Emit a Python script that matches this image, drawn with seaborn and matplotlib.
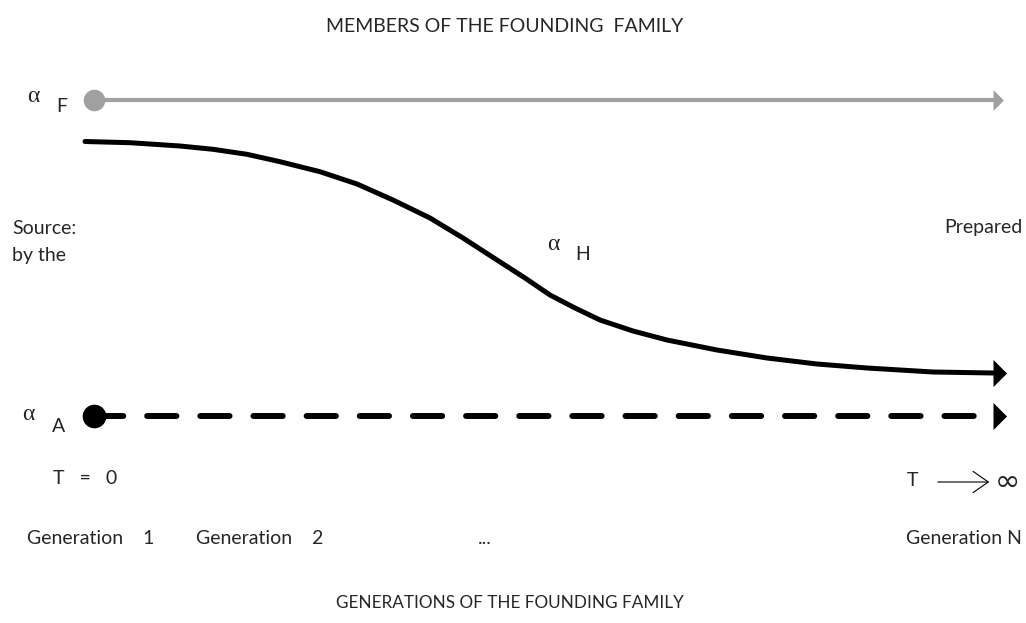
"""
Diagram: alpha of founding family members over generations.
Coordinates are read off the reference picture (pixel space, y down).
"""
import numpy as np
import pandas as pd
import seaborn as sns
from matplotlib import pyplot as plt

# lines across the generations (x = time, y = position on the chart)
founder_x = [94, 993]
founder_y = [100, 100]

heir_x = [85, 130, 180, 213, 247, 280, 320, 357, 393, 430, 463, 497, 525,
          550, 575, 600, 633, 667, 717, 767, 817, 867, 933, 993]
heir_y = [141.5, 142.7, 146, 149.3, 154.3, 161.7, 171.7, 184, 200, 218, 238,
          260, 278, 295, 308, 320, 331, 340, 350, 358, 364, 368, 372, 373]

agent_x = [94, 993]
agent_y = [416, 416]

gen_labels = ["Generation    1", "Generation    2", "...", "Generation N"]

sns.set_theme(style="white")
plt.rcParams['font.family'] = ['Lato', 'DejaVu Sans']

fig = plt.figure(figsize=(10.26, 6.23), dpi=100)
ax = fig.add_axes([0, 0, 1, 1])

grey = "#a0a0a0"

# alpha_F, constant grey line
sns.lineplot(x=founder_x, y=founder_y, sort=False, ax=ax, color=grey, lw=3.0)
ax.plot(founder_x[0], founder_y[0], "o", color=grey, ms=14.5)

# alpha_H, declining curve
sns.lineplot(x=heir_x, y=heir_y, sort=False, ax=ax, color="black", lw=3.6,
             solid_joinstyle="round")

# alpha_A, dashed
sns.lineplot(x=agent_x, y=agent_y, sort=False, ax=ax, color="black", lw=4.3,
             linestyle=(0, (4.9, 4.0)), dash_capstyle="round")
ax.plot(agent_x[0], agent_y[0], "o", color="black", ms=16)

# arrow heads
head = [(0, -1), (1, 0), (0, 1), (0, -1)]
ax.plot(founder_x[-1], founder_y[-1], marker=head, color=grey, ms=15, mew=0)
ax.plot(heir_x[-1], heir_y[-1], marker=head, color="black", ms=19.5, mew=0)
ax.plot(agent_x[-1], agent_y[-1], marker=head, color="black", ms=19.5, mew=0)

fs = 14
serif = ['Liberation Serif', 'DejaVu Serif']

# subscripted alphas
ax.text(33, 96, "α", family=serif, fontsize=17, ha="center", va="center")
ax.text(62, 106, "F", fontsize=fs, ha="center", va="center")
ax.text(553, 245, "α", family=serif, fontsize=17, ha="center", va="center")
ax.text(583, 255, "H", fontsize=fs, ha="center", va="center")
ax.text(28, 415, "α", family=serif, fontsize=17, ha="center", va="center")
ax.text(59, 426, "A", fontsize=fs, ha="center", va="center")

ax.text(12, 228, "Source:", fontsize=fs, ha="left", va="center")
ax.text(12, 256, "by the", fontsize=fs, ha="left", va="center")
ax.text(1022, 228, "Prepared", fontsize=fs, ha="right", va="center")

ax.text(53, 478, "T   =   0", fontsize=fs, ha="left", va="center")
ax.text(907, 480, "T", fontsize=fs, ha="left", va="center")
ax.annotate("", xy=(992, 482), xytext=(935, 482),
            arrowprops=dict(arrowstyle="->,head_length=0.5,head_width=0.35",
                            lw=0.8, color="black", mutation_scale=22))
ax.text(1007, 482, "∞", family=['DejaVu Sans'], fontsize=22,
        ha="center", va="center")

gen_x = [27, 196, 478, 1022]
gen_ha = ["left", "left", "left", "right"]
for lbl, gx, h in zip(gen_labels, gen_x, gen_ha):
    ax.text(gx, 538, lbl, fontsize=fs, ha=h, va="center")

ax.text(505, 27, "MEMBERS OF THE FOUNDING  FAMILY", fontsize=fs,
        ha="center", va="center")
ax.text(510, 603, "GENERATIONS OF THE FOUNDING FAMILY", fontsize=12.3,
        ha="center", va="center")

ax.set_xlim(0, 1026)
ax.set_ylim(623, 0)
ax.axis("off")

plt.savefig("out.png", dpi=100)
